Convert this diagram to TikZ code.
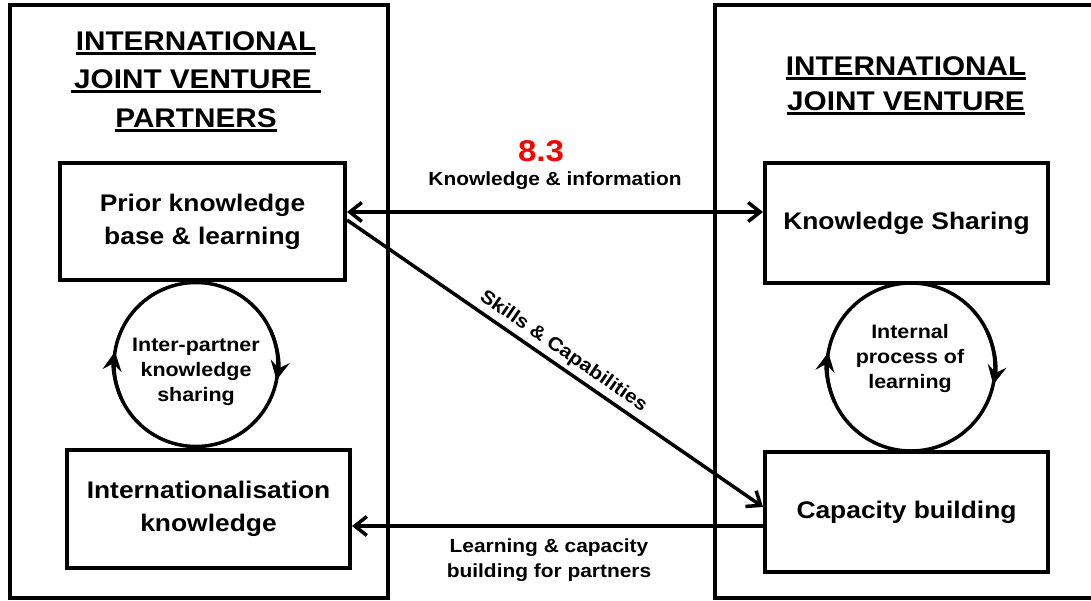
\documentclass[tikz,border=0pt]{standalone}
\usepackage{fontspec}
\setmainfont[FakeStretch=1.1]{Liberation Sans}
\usetikzlibrary{arrows.meta}
\definecolor{lblred}{RGB}{250,0,0}
\begin{document}
\begin{tikzpicture}[x=1pt,y=-1pt,
  frame/.style={draw, line width=3.5pt},
  box/.style={draw, line width=4pt, minimum width=283pt, minimum height=118pt, align=center, inner sep=0pt, font=\fontsize{24}{33}\selectfont\bfseries},
  ttl/.style={inner sep=0pt, anchor=base, font=\fontsize{27}{30}\selectfont\bfseries},
  uline/.style={line width=2.8pt},
  lbl/.style={align=center, inner sep=2pt, font=\fontsize{19}{25}\selectfont\bfseries},
  clbl/.style={align=center, inner sep=0pt, font=\fontsize{19.5}{25}\selectfont\bfseries},
  ring/.style={draw, circle, line width=3.5pt, inner sep=0pt},
  ringarrow/.style={line width=3.5pt, -{Stealth[length=19pt,width=19pt,inset=7pt]}},
  conn/.style={line width=3.5pt, -{Straight Barb[length=12pt,width=19pt]}},
  dconn/.style={line width=3.5pt, {Straight Barb[length=12pt,width=19pt]}-{Straight Barb[length=12pt,width=19pt]}}
]
\useasboundingbox (0,0) rectangle (1091,600);
\fill[white] (0,0) rectangle (1091,600);

% outer frames
\draw[frame] (10,5) rectangle (388,598);
\draw[frame] (1100,5) -- (715,5) -- (715,598) -- (1100,598);

% titles left
\node[ttl] (tl1) at (196,50) {INTERNATIONAL};
\node[ttl] (tl2) at (193,88) {JOINT VENTURE};
\node[ttl] (tl3) at (196,127) {PARTNERS};
\draw[uline] ([yshift=-3.5pt]tl1.base west) -- ([yshift=-3.5pt]tl1.base east);
\draw[uline] ([shift={(-3pt,-3.5pt)}]tl2.base west) -- ([shift={(9pt,-3.5pt)}]tl2.base east);
\draw[uline] ([yshift=-3.5pt]tl3.base west) -- ([yshift=-3.5pt]tl3.base east);

% titles right
\node[ttl] (tr1) at (906,75) {INTERNATIONAL};
\node[ttl] (tr2) at (906,110) {JOINT VENTURE};
\draw[uline] ([yshift=-3.5pt]tr1.base west) -- ([yshift=-3.5pt]tr1.base east);
\draw[uline] ([yshift=-3.5pt]tr2.base west) -- ([yshift=-3.5pt]tr2.base east);

% boxes
\node[box, minimum width=285pt, minimum height=117pt] (pk) at (202.5,221.5) {Prior knowledge\\base \& learning};
\node[box] (ik) at (208.5,509) {Internationalisation\\knowledge};
\node[box, minimum height=120pt] (ks) at (906.5,223) {Knowledge Sharing};
\node[box, minimum height=120pt] (cb) at (906.5,512) {Capacity building};

% left ring
\node[ring, minimum size=164pt] (lc) at (196,364.5) {};
\node[clbl] (lct) at (196,372) {Inter-partner\\knowledge\\sharing};
\draw[ringarrow] ([shift={(155:82)}]lc.center) arc[start angle=155, end angle=189, radius=82];
\draw[ringarrow] ([shift={(-25:82)}]lc.center) arc[start angle=-25, end angle=11, radius=82];

% right ring
\node[ring, minimum size=168pt] (rc) at (911,367) {};
\node[clbl] (rct) at (910,358) {Internal\\process of\\learning};
\draw[ringarrow] ([shift={(155:84)}]rc.center) arc[start angle=155, end angle=190, radius=84];
\draw[ringarrow] ([shift={(-25:84)}]rc.center) arc[start angle=-25, end angle=12, radius=84];

% connectors
\draw[dconn] ([yshift=9.5pt]pk.east) -- ([yshift=11pt]ks.west);
\node[font=\fontsize{30}{30}\selectfont\bfseries, text=lblred, inner sep=0pt] (n83) at (541,151) {8.3};
\node[lbl] (ki) at (555,181) {Knowledge \& information};

\draw[conn] ([yshift=1.5pt]pk.east) -- ([yshift=5pt]cb.west)
  node[pos=0.5, sloped, above, lbl, inner sep=4pt] (sc) {Skills \& Capabilities};

\draw[conn] ([yshift=-14pt]cb.west) -- ([yshift=-17pt]ik.east);
\node[lbl] (lc2) at (549,560) {Learning \& capacity\\building for partners};
\end{tikzpicture}
\end{document}
